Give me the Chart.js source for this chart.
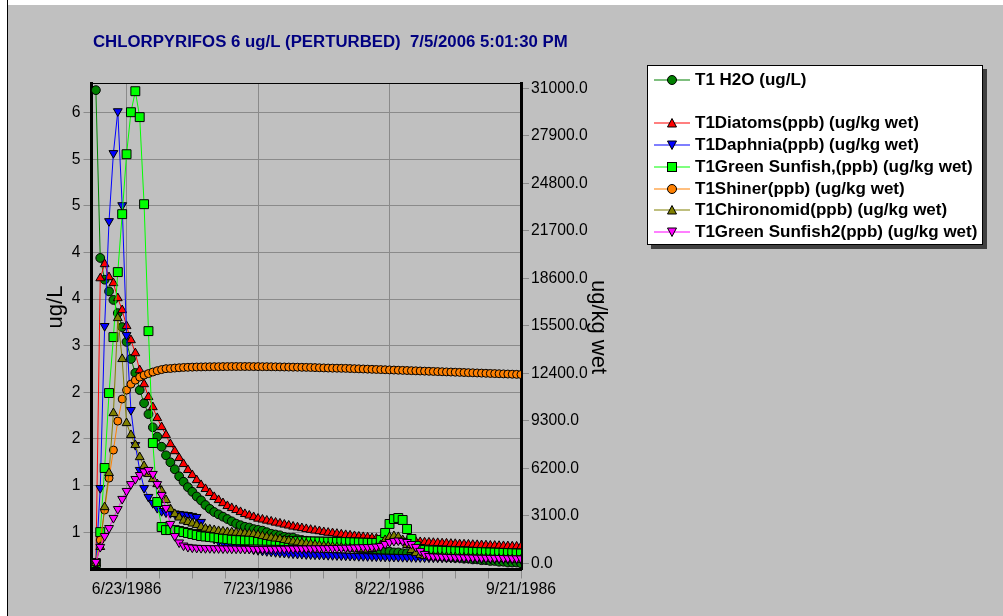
<!DOCTYPE html>
<html>
<head>
<meta charset="utf-8">
<script src="https://cdn.jsdelivr.net/npm/chart.js@4.4.1/dist/chart.umd.min.js"></script>
<style>
  body { margin: 0; background: #fff; }
  #wrap { position: relative; width: 1003px; height: 616px; overflow: hidden; }
  #bg { position: absolute; left: 8px; top: 5px; right: 0; bottom: 0; background: #c0c0c0; }
  #edge { position: absolute; left: 7px; top: 0; width: 1px; height: 616px; background: #000; }
  #chart { position: absolute; left: 0; top: 0; }
  #legend {
    position: absolute; left: 647px; top: 65px; width: 334px; height: 178px;
    background: #fff; border: 1px solid #000; box-shadow: 4px 4px 0 #404040;
    font: bold 17px "Liberation Sans", Arial, sans-serif; color: #000;
  }
  .row { position: absolute; left: 6px; height: 20px; display: flex; align-items: center; white-space: nowrap; }
  .row svg { margin-right: 5px; flex: none; }
</style>
</head>
<body>
<div id="wrap">
  <div id="bg"></div>
  <div id="edge"></div>
  <canvas id="chart" width="1003" height="616"></canvas>
  <div id="legend"></div>
</div>
<script>
// days counted from 6/23/1986
const days = [-7,-6,-5,-4,-3,-2,-1,0,1,2,3,4,5,6,7,8,9,10,11,12,13,14,15,16,17,18,19,20,
  21,22,23,24,25,26,27,28,29,30,31,32,33,34,35,36,37,38,39,40,41,42,43,44,45,46,47,48,49,50,
  51,52,53,54,55,56,57,58,59,60,61,62,63,64,65,66,67,68,69,70,71,72,73,74,75,76,77,78,79,80,
  81,82,83,84,85,86,87,88,89,90];

const chartTitle = 'CHLORPYRIFOS 6 ug/L (PERTURBED)  7/5/2006 5:01:30 PM';

const seriesNames = [
  'T1 H2O (ug/L)',
  'T1Diatoms(ppb) (ug/kg wet)',
  'T1Daphnia(ppb) (ug/kg wet)',
  'T1Green Sunfish,(ppb) (ug/kg wet)',
  'T1Shiner(ppb) (ug/kg wet)',
  'T1Chironomid(ppb) (ug/kg wet)',
  'T1Green Sunfish2(ppb) (ug/kg wet)'
];

// ug/L, left axis
const h2o = [6.29,4.13,3.85,3.70,3.59,3.42,3.24,
  3.05,2.83,2.65,2.43,2.26,2.12,1.95,1.83,1.70,1.59,
  1.50,1.41,1.32,1.25,1.18,1.12,1.06,1.01,0.95,0.90,
  0.86,0.83,0.80,0.77,0.74,0.71,0.69,0.67,0.66,0.64,
  0.63,0.62,0.60,0.58,0.57,0.56,0.54,0.53,0.53,0.51,
  0.50,0.49,0.48,0.47,0.46,0.46,0.45,0.44,0.43,0.42,
  0.42,0.41,0.40,0.39,0.39,0.38,0.37,0.37,0.36,0.35,
  0.35,0.34,0.34,0.33,0.33,0.32,0.32,0.31,0.31,0.30,
  0.30,0.29,0.29,0.28,0.28,0.27,0.27,0.26,0.26,0.25,
  0.25,0.24,0.24,0.23,0.23,0.22,0.22,0.21,0.21,0.21,0.20];

// ug/kg wet, right axis
const diatoms = [30,18610,19530,18680,18290,17310,16530,
  15490,14570,13720,12610,11700,10860,10200,9490,8900,8380,
  7790,7330,6880,6490,6100,5770,5440,5120,4860,4600,
  4340,4140,3940,3750,3620,3490,3360,3230,3130,3030,
  2930,2870,2800,2740,2670,2610,2540,2480,2410,2360,
  2310,2250,2200,2150,2110,2050,2010,1980,1940,1900,
  1860,1830,1790,1760,1730,1700,1660,1630,1600,1560,
  1530,1510,1490,1470,1450,1440,1420,1400,1380,1370,
  1350,1340,1320,1310,1290,1280,1260,1250,1240,1220,
  1210,1200,1190,1170,1160,1150,1140,1130,1120,1110,1100];

const daphnia = [30,4920,15490,22330,26770,29500,23370,
  14900,10010,7730,6100,4920,4340,3940,3620,3420,3330,
  3290,3260,3230,3190,3160,3100,3030,2710,2250,1860,
  1600,1470,1370,1270,1210,1140,1080,1010,960,910,
  870,830,800,770,740,710,690,670,650,630,
  620,600,590,580,570,560,550,540,530,520,
  510,500,490,480,475,470,460,455,450,440,
  435,430,425,420,415,410,405,400,395,390,
  385,380,375,370,365,360,355,350,345,340,
  335,330,325,320,315,310,305,300,295,290,285];

const greenSunfish = [30,2050,6230,11120,14770,19010,22790,
  26700,29440,30810,29120,23440,15160,7860,4010,2380,2180,
  2180,2180,2120,2050,1990,1920,1860,1790,1760,1730,
  1700,1660,1630,1600,1560,1530,1520,1515,1510,1505,
  1500,1495,1490,1485,1480,1475,1470,1465,1460,1455,
  1450,1445,1440,1435,1430,1425,1420,1415,1410,1405,
  1400,1390,1380,1370,1360,1350,1345,1340,1530,1990,
  2580,2900,2970,2840,2250,1600,1140,950,880,860,
  850,840,830,820,810,800,790,780,770,760,
  750,740,730,720,710,700,690,680,670,660,650];

const shiner = [30,1530,3490,5570,7400,9290,10730,
  11310,11700,11960,12160,12290,12390,12490,12580,12650,12710,
  12720,12750,12770,12790,12800,12810,12820,12825,12830,12835,
  12840,12840,12845,12845,12850,12850,12850,12850,12850,12845,
  12845,12840,12840,12835,12830,12825,12820,12815,12810,12805,
  12800,12795,12790,12780,12770,12760,12750,12745,12740,12735,
  12730,12720,12710,12700,12690,12680,12670,12660,12650,12640,
  12630,12620,12610,12600,12590,12580,12570,12560,12550,12540,
  12530,12520,12510,12500,12490,12480,12470,12460,12450,12440,
  12430,12420,12410,12400,12390,12380,12370,12360,12350,12340,12330];

const chironomid = [30,1080,3680,5900,9810,16010,13340,
  9160,8380,7730,6940,6360,5840,5510,5180,4730,4140,
  3550,3230,3000,2800,2710,2610,2510,2380,2280,2220,
  2180,2120,2090,2050,2030,2010,1990,1970,1950,1920,
  1860,1790,1730,1680,1630,1600,1530,1480,1430,1380,
  1340,1300,1260,1220,1180,1140,1120,1090,1060,1040,
  1010,990,970,950,930,910,950,1040,1210,1530,
  1730,1790,1730,1530,1210,880,680,550,490,470,
  460,450,440,430,420,410,400,390,380,370,
  360,350,340,330,320,310,300,290,280,270,260];

const greenSunfish2 = [100,1080,1790,2310,2970,3550,4210,
  4730,5180,5510,5770,6000,6100,5840,5180,4470,3620,
  2580,1790,1370,1170,1080,1040,1020,1010,1000,1000,
  990,990,980,980,970,970,960,960,960,950,
  950,950,950,955,960,960,965,970,970,975,
  980,980,985,990,990,995,1000,1005,1010,1020,
  1025,1030,1040,1050,1060,1070,1080,1100,1140,1270,
  1400,1470,1500,1470,1400,1270,1080,820,620,490,
  460,450,440,430,420,410,400,395,390,385,
  380,375,370,365,360,355,350,345,340,335,330];

const seriesValues = [h2o, diatoms, daphnia, greenSunfish, shiner, chironomid, greenSunfish2];
const seriesAxis = ['y', 'y2', 'y2', 'y2', 'y2', 'y2', 'y2'];

// axis ticks
const xMajorTicks = [0, 30, 60, 90];
const xMajorLabels = ['6/23/1986', '7/23/1986', '8/22/1986', '9/21/1986'];
const xMinorTicks = [7.5, 15, 22.5, 37.5, 45, 52.5, 67.5, 75, 82.5];
const leftTicks = [0.6, 1.2, 1.8, 2.4, 3.0, 3.6, 4.2, 4.8, 5.4, 6.0];
const leftTickLabels = ['1', '1', '2', '2', '3', '4', '4', '5', '5', '6'];
const rightTicks = [0, 3100, 6200, 9300, 12400, 15500, 18600, 21700, 24800, 27900, 31000];

// styles
const lineColors = ['#008000', '#ff0000', '#0000ff', '#00ff00', '#ff8000', '#808000', '#ff00ff'];
const markerStyles = ['circle', 'triangle', 'triangle', 'rect', 'circle', 'triangle', 'triangle'];
const markerRotation = [0, 0, 180, 0, 0, 0, 180];
const markerRadius = [4.4, 5.1, 5.1, 6.3, 4, 5.1, 5.1];

const gridColor = '#8a8a8a';
const tickFont = { family: 'Liberation Sans', size: 15.7 };

const datasets = seriesNames.map(function (name, i) {
  return {
    label: name,
    data: days.map(function (d, k) { return { x: d, y: seriesValues[i][k] }; }),
    yAxisID: seriesAxis[i],
    borderColor: lineColors[i],
    backgroundColor: lineColors[i],
    borderWidth: 1,
    tension: 0,
    pointStyle: markerStyles[i],
    pointRotation: markerRotation[i],
    pointRadius: markerRadius[i],
    pointBackgroundColor: lineColors[i],
    pointBorderColor: '#000',
    pointBorderWidth: 1,
    order: seriesNames.length - i
  };
});

const decor = {
  id: 'decor',
  afterDraw: function (chart) {
    const c = chart.ctx, a = chart.chartArea;
    c.save();
    // thin top frame line
    c.strokeStyle = '#000';
    c.lineWidth = 1;
    c.beginPath();
    c.moveTo(a.left, Math.round(a.top) + 0.5);
    c.lineTo(a.right, Math.round(a.top) + 0.5);
    c.stroke();
    // title
    c.fillStyle = '#000080';
    c.font = 'bold 16.8px "Liberation Sans"';
    c.textAlign = 'left';
    c.textBaseline = 'alphabetic';
    c.fillText(chartTitle, 93, 47);
    // axis titles
    c.fillStyle = '#000';
    c.font = '22px "Liberation Sans"';
    c.textAlign = 'center';
    c.textBaseline = 'middle';
    c.save();
    c.translate(56, 307);
    c.rotate(-Math.PI / 2);
    c.fillText('ug/L', 0, 0);
    c.restore();
    c.save();
    c.translate(598, 327);
    c.rotate(Math.PI / 2);
    c.fillText('ug/kg wet', 0, 0);
    c.restore();
    c.restore();
  }
};

const ctx = document.getElementById('chart').getContext('2d');
window.mainChart = new Chart(ctx, {
  type: 'line',
  data: { datasets: datasets },
  options: {
    responsive: false,
    animation: false,
    events: [],
    layout: { padding: { top: 83, left: 0, right: 0, bottom: 0 } },
    plugins: { legend: { display: false }, title: { display: false }, tooltip: { enabled: false } },
    scales: {
      x: {
        type: 'linear', position: 'bottom', min: -8, max: 90,
        afterBuildTicks: function (s) {
          s.ticks = xMajorTicks.concat(xMinorTicks).sort(function (p, q) { return p - q; })
            .map(function (v) { return { value: v }; });
        },
        afterFit: function (s) { s.height = 46.5; },
        grid: {
          color: function (c) { return c.tick && xMajorTicks.indexOf(c.tick.value) >= 0 ? gridColor : 'rgba(0,0,0,0)'; },
          tickColor: gridColor, tickLength: 9, lineWidth: 1
        },
        border: { display: true, color: '#000', width: 3 },
        ticks: {
          autoSkip: false, maxRotation: 0, padding: 2, color: '#000', font: tickFont,
          callback: function (v) { const k = xMajorTicks.indexOf(v); return k >= 0 ? xMajorLabels[k] : ''; }
        }
      },
      y: {
        type: 'linear', position: 'left', min: 0.12, max: 6.382,
        afterBuildTicks: function (s) { s.ticks = leftTicks.map(function (v) { return { value: v }; }); },
        afterFit: function (s) { s.width = 91.5; },
        grid: { color: gridColor, tickColor: gridColor, tickLength: 8, lineWidth: 1 },
        border: { display: true, color: '#000', width: 3 },
        ticks: {
          padding: 3, color: '#000', font: tickFont,
          callback: function (v, i) { return leftTickLabels[i]; }
        }
      },
      y2: {
        type: 'linear', position: 'right', min: -391, max: 31346,
        afterBuildTicks: function (s) { s.ticks = rightTicks.map(function (v) { return { value: v }; }); },
        afterFit: function (s) { s.width = 482; },
        grid: { drawOnChartArea: false, color: gridColor, tickColor: gridColor, tickLength: 8, lineWidth: 1 },
        border: { display: true, color: '#000', width: 3 },
        ticks: {
          padding: 2, color: '#000', font: tickFont,
          callback: function (v) { return Number(v).toFixed(1); }
        }
      }
    }
  },
  plugins: [decor]
});

// legend box (blank line after the water series, as in the original)
const legendRowY = [14, 57, 79, 101, 122.5, 144, 165.5];
const legend = document.getElementById('legend');
seriesNames.forEach(function (name, i) {
  const col = lineColors[i];
  let mark;
  if (markerStyles[i] === 'circle') {
    mark = '<circle cx="18" cy="10" r="4.5" fill="' + col + '" stroke="#000" stroke-width="1"/>';
  } else if (markerStyles[i] === 'rect') {
    mark = '<rect x="13.5" y="5.5" width="9" height="9" fill="' + col + '" stroke="#000" stroke-width="1"/>';
  } else if (markerRotation[i] === 180) {
    mark = '<polygon points="13.5,6 22.5,6 18,14.5" fill="' + col + '" stroke="#000" stroke-width="1"/>';
  } else {
    mark = '<polygon points="18,5.5 22.5,14 13.5,14" fill="' + col + '" stroke="#000" stroke-width="1"/>';
  }
  const row = document.createElement('div');
  row.className = 'row';
  row.style.top = (legendRowY[i] - 10) + 'px';
  row.innerHTML = '<svg width="36" height="20"><line x1="0" y1="10" x2="36" y2="10" stroke="' + col +
    '" stroke-width="1.2"/>' + mark + '</svg><span></span>';
  row.querySelector('span').textContent = name;
  legend.appendChild(row);
});
</script>
</body>
</html>
